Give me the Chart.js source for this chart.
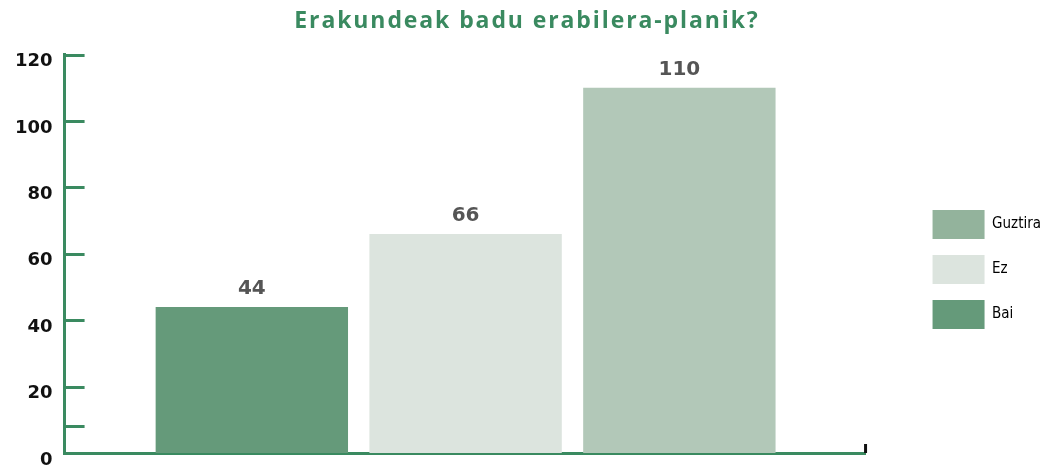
<!DOCTYPE html>
<html>
<head>
<meta charset="utf-8">
<script src="https://cdn.jsdelivr.net/npm/chart.js@4/dist/chart.umd.min.js"></script>
<style>
html,body{margin:0;padding:0;background:#fff;}
#wrap{width:1051px;height:470px;position:relative;}
</style>
</head>
<body>
<div id="wrap"><canvas id="c"></canvas></div>
<script>
const titleText = 'Erakundeak badu erabilera-planik?';
const categories = ['Bai', 'Ez', 'Guztira'];
const values = [44, 66, 110];
const barColors = ['#659a7a', '#dce4de', '#b2c8b8'];
const legendOrder = ['Guztira', 'Ez', 'Bai'];
const legendColors = ['#93b39c', '#dce4de', '#659a7a'];
const yTickValues = [0, 8, 20, 40, 60, 80, 100, 120];
const yTickLabels = ['0', '', '20', '40', '60', '80', '100', '120'];

const axisGreen = '#3a8a60';

const points = categories.map((c, i) => ({ x: i, y: values[i] }));

const extras = {
  id: 'extras',
  afterInit(chart) {
    const tb = chart.titleBlock;
    if (tb) {
      const orig = tb.draw;
      tb.draw = function () {
        const ctx = chart.ctx;
        ctx.save();
        ctx.letterSpacing = '1.9px';
        orig.apply(this, arguments);
        ctx.restore();
      };
    }
  },
  afterDatasetsDraw(chart) {
    const ctx = chart.ctx, ys = chart.scales.y, ca = chart.chartArea;
    ctx.save();
    ctx.strokeStyle = axisGreen;
    ctx.lineWidth = 3;
    ys.ticks.forEach(t => {
      if (t.value === 0) return;
      const py = Math.round(ys.getPixelForValue(t.value)) + 0.5;
      ctx.beginPath();
      ctx.moveTo(ca.left, py);
      ctx.lineTo(ca.left + 20, py);
      ctx.stroke();
    });
    ctx.strokeStyle = '#111';
    ctx.lineWidth = 3;
    ctx.beginPath();
    ctx.moveTo(ca.right, ca.bottom);
    ctx.lineTo(ca.right, ca.bottom - 9);
    ctx.stroke();
    const meta = chart.getDatasetMeta(0);
    ctx.fillStyle = '#555555';
    ctx.font = 'bold 20px "DejaVu Sans"';
    ctx.textAlign = 'center';
    ctx.textBaseline = 'alphabetic';
    meta.data.forEach((bar, i) => {
      ctx.fillText(String(values[i]), bar.x, bar.y - 13);
    });
    ctx.restore();
  }
};

new Chart(document.getElementById('c'), {
  type: 'bar',
  data: {
    labels: categories,
    datasets: [{
      label: 'Erakundeak',
      data: points,
      backgroundColor: barColors,
      borderWidth: 0,
      barPercentage: 0.9,
      categoryPercentage: 1.0
    }]
  },
  options: {
    responsive: true,
    maintainAspectRatio: false,
    animation: false,
    layout: { padding: { left: 3, right: 0, top: 0, bottom: 17 } },
    scales: {
      x: {
        type: 'linear',
        offset: false,
        min: -0.876,
        max: 2.871,
        afterBuildTicks(scale) {
          scale.ticks = categories.map((c, i) => ({ value: i }));
        },
        grid: { display: false, drawTicks: false, offset: false },
        border: { display: true, color: axisGreen, width: 3 },
        ticks: { display: false }
      },
      y: {
        min: 0,
        max: 120,
        afterBuildTicks(scale) {
          scale.ticks = yTickValues.map(v => ({ value: v }));
        },
        afterFit(scale) {
          scale.paddingBottom = 0;
        },
        grid: { display: false, drawTicks: false },
        border: { display: true, color: axisGreen, width: 3 },
        ticks: {
          padding: 12,
          labelOffset: 7,
          color: '#111',
          font: { family: '"DejaVu Sans"', weight: 'bold', size: 18 },
          callback(value) {
            const i = yTickValues.indexOf(value);
            return i >= 0 ? yTickLabels[i] : '';
          }
        }
      },
      gap: {
        type: 'linear',
        position: 'right',
        display: true,
        afterFit(scale) { scale.width = 51; },
        grid: { display: false, drawTicks: false },
        border: { display: false },
        ticks: { display: false }
      }
    },
    plugins: {
      title: {
        display: true,
        text: titleText,
        color: axisGreen,
        font: { family: '"Open Sans"', weight: 'bold', size: 23 },
        padding: { top: 8, bottom: 19 }
      },
      legend: {
        position: 'right',
        align: 'start',
        title: {
          display: true,
          text: ' ',
          font: { size: 10 },
          padding: { top: 0, bottom: 182 }
        },
        labels: {
          boxWidth: 52,
          boxHeight: 29,
          padding: 16,
          color: '#000',
          font: { family: '"Liberation Sans Narrow", "DejaVu Sans Condensed", sans-serif', size: 15 },
          generateLabels() {
            return legendOrder.map((name, i) => ({
              text: name,
              fillStyle: legendColors[i],
              strokeStyle: legendColors[i],
              fontColor: '#000',
              lineWidth: 0,
              hidden: false,
              datasetIndex: 0
            }));
          }
        },
        onClick() {}
      },
      tooltip: { enabled: false }
    }
  },
  plugins: [extras]
});
</script>
</body>
</html>
